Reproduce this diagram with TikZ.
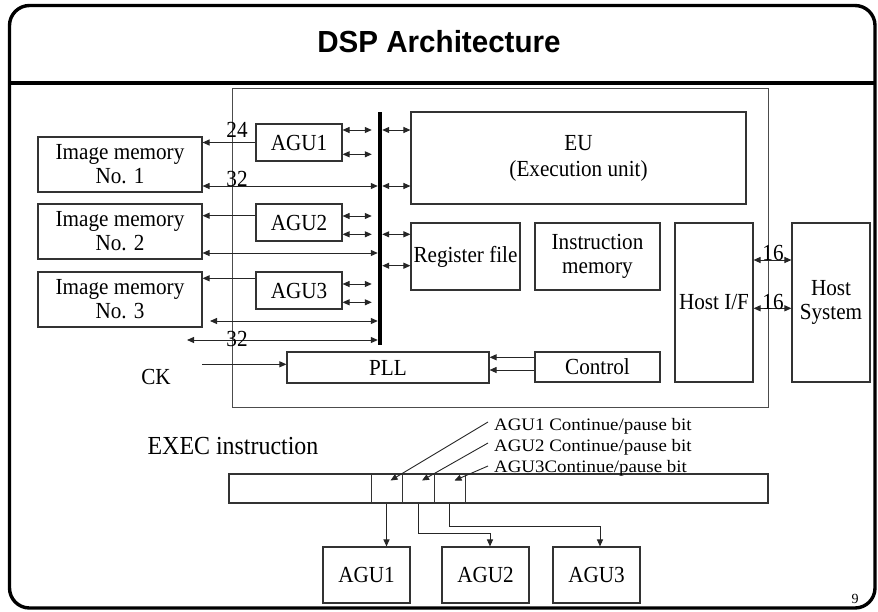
\documentclass[tikz,border=0pt]{standalone}
\usepackage{fontspec}
\setmainfont{Liberation Serif}
\newfontfamily\lblfont{Liberation Serif}[FakeStretch=0.92]
\newfontfamily\notefont{Liberation Serif}[FakeStretch=1.08]
\newfontfamily\headfont{Liberation Sans}[FakeStretch=0.97]
\usetikzlibrary{arrows.meta,calc}

\tikzset{
  box/.style={draw=black!80, line width=1.1pt, inner sep=0pt, align=center,
    font=\lblfont\fontsize{23}{24}\selectfont},
  lbl/.style={inner sep=0pt, font=\lblfont\fontsize{23}{24}\selectfont},
  note/.style={inner sep=0pt, font=\notefont\fontsize{17.5}{20}\selectfont},
  arr/.style={-{Triangle[length=7pt,width=6pt]}, line width=1pt, draw=black!85},
  darr/.style={{Triangle[length=7pt,width=6pt]}-{Triangle[length=7pt,width=6pt]}, line width=1pt, draw=black!85},
}

\begin{document}
\begin{tikzpicture}[x=1pt,y=-1pt]
\useasboundingbox (0,0) rectangle (878,611);

% slide frame and title bar
\draw[line width=3.4pt, rounded corners=20pt] (9.5,5.5) rectangle (875,608);
\draw[line width=3.2pt] (9.5,83) -- (875,83);
\node[inner sep=0pt, font=\headfont\bfseries\fontsize{30.5}{36}\selectfont] (title) at (439,42) {DSP Architecture};

% chip outline
\node[draw=black!70, line width=1pt, minimum width=536pt, minimum height=319pt, inner sep=0pt] (chip) at (500,247.5) {};

% image memories
\node[box, minimum width=164pt, minimum height=55pt] (im1) at (120,164.5) {Image memory\\No. 1};
\node[box, minimum width=164pt, minimum height=55pt] (im2) at (120,231.5) {Image memory\\No. 2};
\node[box, minimum width=164pt, minimum height=55pt] (im3) at (120,299.5) {Image memory\\No. 3};

% address generation units
\node[box, minimum width=86pt, minimum height=37pt] (agu1) at (299,142.5) {AGU1};
\node[box, minimum width=86pt, minimum height=37pt] (agu2) at (299,222.5) {AGU2};
\node[box, minimum width=86pt, minimum height=37pt] (agu3) at (299,290.5) {AGU3};

% internal bus
\node[fill=black, minimum width=4pt, minimum height=233pt, inner sep=0pt] (bus) at (380,228.5) {};

% functional blocks
\node[box, minimum width=335pt, minimum height=92pt, font=\lblfont\fontsize{23}{26}\selectfont] (eu) at (578.5,158) {EU\\(Execution unit)};
\node[box, minimum width=109pt, minimum height=67pt] (reg) at (465.5,256.5) {Register file};
\node[box, minimum width=125pt, minimum height=67pt] (imem) at (597.5,256.5) {Instruction\\memory};
\node[box, minimum width=78pt, minimum height=159pt] (hif) at (714,302.5) {Host I/F};
\node[box, minimum width=78pt, minimum height=159pt] (host) at (831,302.5) {Host\\System};
\node[box, minimum width=202pt, minimum height=31pt] (pll) at (388,367.5) {PLL};
\node[box, minimum width=125pt, minimum height=30pt] (ctrl) at (597.5,367) {Control};

% AGU -> image memory address lines
\draw[arr] (agu1.west) -- (agu1.west -| im1.east);
\draw[arr] ([yshift=6.8pt]agu2.west) -- ([yshift=6.8pt]agu2.west -| im2.east);
\draw[arr] ([yshift=12.2pt]agu3.west) -- ([yshift=12.2pt]agu3.west -| im3.east);

% AGU <-> bus
\foreach \a/\s in {agu1/12.5, agu1/-11.8, agu2/6.5, agu2/-11.8, agu3/6.5, agu3/-11.8}{
  \coordinate (p) at ([yshift=\s pt]\a.east);
  \draw[darr] (p) -- ([xshift=-6pt]bus.west |- p);
}

% image memory data lines
\coordinate (d1) at ([yshift=-21.5pt]im1.east);
\coordinate (d2) at ([yshift=-21.5pt]im2.east);
\draw[darr] (d1) -- (bus.west |- d1);
\draw[darr] (d2) -- (bus.west |- d2);
\coordinate (d3) at (210,321);
\coordinate (d4) at (187,340);
\draw[darr] (d3) -- (bus.west |- d3);
\draw[darr] (d4) -- (bus.west |- d4);

% bus <-> EU and register file
\foreach \b/\s in {eu/28, eu/-28, reg/22.2, reg/-9.2}{
  \coordinate (q) at ([yshift=\s pt]\b.west);
  \draw[darr] (bus.east |- q) -- (q);
}

% host interface
\coordinate (h1) at ([yshift=42.5pt]hif.east);
\coordinate (h2) at ([yshift=-5.8pt]hif.east);
\draw[darr] (h1) -- (host.west |- h1);
\draw[darr] (h2) -- (host.west |- h2);

% control and clock
\coordinate (c1) at ([yshift=9.7pt]ctrl.west);
\coordinate (c2) at ([yshift=-3pt]ctrl.west);
\draw[arr] (c1) -- (pll.east |- c1);
\draw[arr] (c2) -- (pll.east |- c2);
\coordinate (ck) at (202,364.3);
\draw[arr] (ck) -- (pll.west |- ck);
\node[lbl] (cklbl) at (156,377) {CK};

% bus widths
\node[lbl] (w24) at (237,130) {24};
\node[lbl] (w32a) at (237,179) {32};
\node[lbl] (w32b) at (237,339) {32};
\node[lbl] (w16a) at (773,253) {16};
\node[lbl] (w16b) at (773,302) {16};

% EXEC instruction word
\node[inner sep=0pt, font=\lblfont\fontsize{26}{28}\selectfont] (exec) at (233,446) {EXEC instruction};
\node[draw=black!80, line width=1.1pt, minimum width=539pt, minimum height=29pt, inner sep=0pt] (word) at (498.5,488.5) {};
\node[draw=black!80, line width=1pt, minimum width=31pt, minimum height=29pt, inner sep=0pt] (b1) at (386.5,488.5) {};
\node[draw=black!80, line width=1pt, minimum width=32pt, minimum height=29pt, inner sep=0pt] (b2) at (418,488.5) {};
\node[draw=black!80, line width=1pt, minimum width=31pt, minimum height=29pt, inner sep=0pt] (b3) at (449.5,488.5) {};

% bit annotations
\node[note, anchor=base west] (n1) at (494,430) {AGU1 Continue/pause bit};
\node[note, anchor=base west] (n2) at (494,451) {AGU2 Continue/pause bit};
\node[note, anchor=base west] (n3) at (494,472) {AGU3Continue/pause bit};
\coordinate (s1) at (488,422);
\coordinate (s2) at (488,443);
\coordinate (s3) at (488,466);
\coordinate (t1) at ([shift={(4,-8)}]b1.center);
\coordinate (t2) at ([shift={(4,-8)}]b2.center);
\coordinate (t3) at ([shift={(5,-8)}]b3.center);
\draw[arr, line width=0.9pt] (s1) -- (t1);
\draw[arr, line width=0.9pt] (s2) -- (t2);
\draw[arr, line width=0.9pt] (s3) -- (t3);

% target AGUs
\node[box, minimum width=87pt, minimum height=56pt] (ga) at (366.5,575) {AGU1};
\node[box, minimum width=87pt, minimum height=56pt] (gb) at (485.5,575) {AGU2};
\node[box, minimum width=87pt, minimum height=56pt] (gc) at (596.5,575) {AGU3};

\draw[arr] (b1.south) -- (b1.south |- ga.north);
\coordinate (k2) at (490,533);
\coordinate (k3) at (600,526);
\draw[arr] (b2.south) |- (k2) -- (k2 |- gb.north);
\draw[arr] (b3.south) |- (k3) -- (k3 |- gc.north);

% page number
\node[inner sep=0pt, font=\fontsize{14}{16}\selectfont] (pg) at (855,599) {9};
\end{tikzpicture}
\end{document}
